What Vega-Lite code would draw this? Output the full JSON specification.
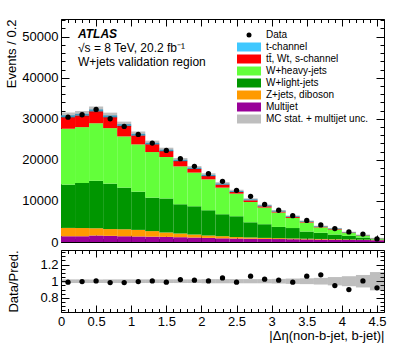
{
  "$schema": "https://vega.github.io/schema/vega-lite/v6.json",
  "padding": {"left": 5, "top": 18, "right": 5, "bottom": 5},
  "spacing": -1,
  "config": {
    "font": "Liberation Sans",
    "view": {"stroke": "black", "strokeWidth": 1},
    "axis": {"domain": false, "grid": false, "labelFont": "Liberation Sans", "labelFontSize": 13, "labelColor": "black", "tickColor": "black", "titleFont": "Liberation Sans", "titleFontSize": 13, "titleFontWeight": "normal", "titleColor": "black", "labelOverlap": false, "labelFlush": false}
  },
  "datasets": {
    "bins": [
      {"lo": 0.0, "hi": 0.2, "mid": 0.1, "multijet": 1400, "zjets": 2030, "wlight": 10540, "wheavy": 13610, "ttbar": 2820, "tchan": 450, "data": 30400, "mcLo": 30170, "mcHi": 31530, "ratio": 0.988, "rLo": 0.978, "rHi": 1.022},
      {"lo": 0.2, "hi": 0.4, "mid": 0.3, "multijet": 1400, "zjets": 2000, "wlight": 10970, "wheavy": 13600, "ttbar": 2840, "tchan": 400, "data": 30980, "mcLo": 30520, "mcHi": 31900, "ratio": 0.996, "rLo": 0.978, "rHi": 1.022},
      {"lo": 0.4, "hi": 0.6, "mid": 0.5, "multijet": 1600, "zjets": 1750, "wlight": 11590, "wheavy": 14000, "ttbar": 2920, "tchan": 400, "data": 32270, "mcLo": 31550, "mcHi": 32970, "ratio": 1.004, "rLo": 0.978, "rHi": 1.022},
      {"lo": 0.6, "hi": 0.8, "mid": 0.7, "multijet": 1500, "zjets": 1650, "wlight": 11060, "wheavy": 13520, "ttbar": 2670, "tchan": 420, "data": 30010, "mcLo": 30140, "mcHi": 31500, "ratio": 0.984, "rLo": 0.978, "rHi": 1.022},
      {"lo": 0.8, "hi": 1.0, "mid": 0.9, "multijet": 1400, "zjets": 1700, "wlight": 10140, "wheavy": 12470, "ttbar": 2590, "tchan": 380, "data": 28140, "mcLo": 28050, "mcHi": 29310, "ratio": 0.984, "rLo": 0.978, "rHi": 1.022},
      {"lo": 1.0, "hi": 1.2, "mid": 1.1, "multijet": 1350, "zjets": 1600, "wlight": 9310, "wheavy": 11510, "ttbar": 2180, "tchan": 380, "data": 26200, "mcLo": 25750, "mcHi": 26910, "ratio": 0.996, "rLo": 0.978, "rHi": 1.022},
      {"lo": 1.2, "hi": 1.4, "mid": 1.3, "multijet": 1300, "zjets": 1350, "wlight": 8150, "wheavy": 11100, "ttbar": 1900, "tchan": 350, "data": 24080, "mcLo": 23620, "mcHi": 24680, "ratio": 1.004, "rLo": 0.978, "rHi": 1.022},
      {"lo": 1.4, "hi": 1.6, "mid": 1.5, "multijet": 1250, "zjets": 1070, "wlight": 8280, "wheavy": 10090, "ttbar": 1450, "tchan": 330, "data": 22310, "mcLo": 21980, "mcHi": 22960, "ratio": 0.988, "rLo": 0.978, "rHi": 1.022},
      {"lo": 1.6, "hi": 1.8, "mid": 1.7, "multijet": 1170, "zjets": 900, "wlight": 7120, "wheavy": 9230, "ttbar": 1290, "tchan": 300, "data": 20290, "mcLo": 19570, "mcHi": 20450, "ratio": 1.02, "rLo": 0.978, "rHi": 1.022},
      {"lo": 1.8, "hi": 2.0, "mid": 1.9, "multijet": 1090, "zjets": 730, "wlight": 6880, "wheavy": 8200, "ttbar": 900, "tchan": 280, "data": 18420, "mcLo": 17680, "mcHi": 18480, "ratio": 1.012, "rLo": 0.978, "rHi": 1.022},
      {"lo": 2.0, "hi": 2.2, "mid": 2.1, "multijet": 1010, "zjets": 570, "wlight": 6150, "wheavy": 7530, "ttbar": 800, "tchan": 270, "data": 16640, "mcLo": 15920, "mcHi": 16740, "ratio": 1.004, "rLo": 0.975, "rHi": 1.025},
      {"lo": 2.2, "hi": 2.4, "mid": 2.3, "multijet": 900, "zjets": 510, "wlight": 5350, "wheavy": 6480, "ttbar": 730, "tchan": 250, "data": 14770, "mcLo": 13860, "mcHi": 14580, "ratio": 1.04, "rLo": 0.975, "rHi": 1.025},
      {"lo": 2.4, "hi": 2.6, "mid": 2.5, "multijet": 850, "zjets": 350, "wlight": 5070, "wheavy": 5510, "ttbar": 400, "tchan": 230, "data": 12590, "mcLo": 12100, "mcHi": 12720, "ratio": 0.988, "rLo": 0.975, "rHi": 1.025},
      {"lo": 2.6, "hi": 2.8, "mid": 2.7, "multijet": 800, "zjets": 300, "wlight": 3700, "wheavy": 4940, "ttbar": 420, "tchan": 210, "data": 11130, "mcLo": 10110, "mcHi": 10630, "ratio": 1.06, "rLo": 0.975, "rHi": 1.025},
      {"lo": 2.8, "hi": 3.0, "mid": 2.9, "multijet": 760, "zjets": 240, "wlight": 3330, "wheavy": 4050, "ttbar": 320, "tchan": 190, "data": 9150, "mcLo": 8670, "mcHi": 9110, "ratio": 1.024, "rLo": 0.975, "rHi": 1.025},
      {"lo": 3.0, "hi": 3.2, "mid": 3.1, "multijet": 720, "zjets": 210, "wlight": 2740, "wheavy": 3500, "ttbar": 250, "tchan": 170, "data": 7730, "mcLo": 7380, "mcHi": 7800, "ratio": 1.012, "rLo": 0.972, "rHi": 1.028},
      {"lo": 3.2, "hi": 3.4, "mid": 3.3, "multijet": 680, "zjets": 180, "wlight": 2540, "wheavy": 2470, "ttbar": 220, "tchan": 150, "data": 6400, "mcLo": 6040, "mcHi": 6440, "ratio": 0.988, "rLo": 0.968, "rHi": 1.032},
      {"lo": 3.4, "hi": 3.6, "mid": 3.5, "multijet": 640, "zjets": 160, "wlight": 1750, "wheavy": 2190, "ttbar": 180, "tchan": 130, "data": 5260, "mcLo": 4870, "mcHi": 5230, "ratio": 1.06, "rLo": 0.965, "rHi": 1.035},
      {"lo": 3.6, "hi": 3.8, "mid": 3.7, "multijet": 600, "zjets": 140, "wlight": 1510, "wheavy": 1310, "ttbar": 150, "tchan": 110, "data": 4160, "mcLo": 3670, "mcHi": 3970, "ratio": 1.077, "rLo": 0.96, "rHi": 1.04},
      {"lo": 3.8, "hi": 4.0, "mid": 3.9, "multijet": 560, "zjets": 120, "wlight": 1140, "wheavy": 1220, "ttbar": 120, "tchan": 95, "data": 3280, "mcLo": 3090, "mcHi": 3420, "ratio": 0.947, "rLo": 0.95, "rHi": 1.05},
      {"lo": 4.0, "hi": 4.2, "mid": 4.1, "multijet": 520, "zjets": 100, "wlight": 880, "wheavy": 680, "ttbar": 100, "tchan": 80, "data": 2450, "mcLo": 2220, "mcHi": 2500, "ratio": 0.9, "rLo": 0.94, "rHi": 1.06},
      {"lo": 4.2, "hi": 4.4, "mid": 4.3, "multijet": 480, "zjets": 90, "wlight": 520, "wheavy": 440, "ttbar": 80, "tchan": 70, "data": 1930, "mcLo": 1550, "mcHi": 1810, "ratio": 1.004, "rLo": 0.925, "rHi": 1.075},
      {"lo": 4.4, "hi": 4.6, "mid": 4.5, "multijet": 440, "zjets": 80, "wlight": 130, "wheavy": 150, "ttbar": 60, "tchan": 55, "data": 750, "mcLo": 815, "mcHi": 1015, "ratio": 0.92, "rLo": 0.89, "rHi": 1.11}
    ]
  },
  "vconcat": [
    {
      "width": 323,
      "height": 223,
      "title": {
        "text": "ATLAS",
        "subtitle": ["√s = 8 TeV, 20.2 fb⁻¹", "W+jets validation region"],
        "anchor": "start", "frame": "group", "orient": "top",
        "offset": -50, "dx": 17,
        "font": "Liberation Sans", "fontSize": 12, "fontStyle": "italic", "fontWeight": "bold", "color": "black",
        "subtitleFont": "Liberation Sans", "subtitleFontSize": 12, "subtitleColor": "black", "subtitlePadding": 2, "subtitleLineHeight": 13.5
      },
      "resolve": {"axis": {"x": "independent", "y": "independent"}},
      "layer": [
        {
          "data": {"name": "bins"},
          "transform": [
            {"fold": ["multijet", "zjets", "wlight", "wheavy", "ttbar", "tchan"], "as": ["process", "count"]},
            {"stack": "count", "groupby": ["lo"], "as": ["y0", "y1"]}
          ],
          "mark": {"type": "rect"},
          "encoding": {
            "x": {"field": "lo", "type": "quantitative", "scale": {"domain": [0, 4.6], "nice": false, "zero": false}, "axis": null},
            "x2": {"field": "hi"},
            "y": {"field": "y1", "type": "quantitative", "scale": {"domain": [0, 54300], "nice": false}, "axis": null},
            "y2": {"field": "y0"},
            "color": {
              "field": "process", "type": "nominal",
              "scale": {
                "domain": ["data", "tchan", "ttbar", "wheavy", "wlight", "zjets", "multijet", "unc"],
                "range": ["#000000", "#3fc8ff", "#ff0000", "#63ff3a", "#009600", "#ff9a00", "#990099", "rgba(40,40,40,0.3)"]
              },
              "legend": {
                "orient": "none", "legendX": 183, "legendY": 11, "title": null, "padding": 0,
                "labelFont": "Liberation Sans", "labelFontSize": 10, "labelColor": "black", "labelOffset": 12, "rowPadding": 2.0,
                "symbolStrokeWidth": 0, "symbolOpacity": 1, "symbolSize": 100,
                "labelExpr": "datum.label === 'data' ? 'Data' : datum.label === 'tchan' ? 't-channel' : datum.label === 'ttbar' ? 'tt̄, Wt, s-channel' : datum.label === 'wheavy' ? 'W+heavy-jets' : datum.label === 'wlight' ? 'W+light-jets' : datum.label === 'zjets' ? 'Z+jets, diboson' : datum.label === 'multijet' ? 'Multijet' : 'MC stat. + multijet unc.'",
                "encode": {"symbols": {"update": {
                  "shape": {"signal": "datum.value === 'data' ? 'circle' : 'M-2.4,-0.9L2.4,-0.9L2.4,0.9L-2.4,0.9Z'"},
                  "size": {"signal": "datum.value === 'data' ? 25 : 100"}
                }}}
              }
            }
          }
        },
        {
          "data": {"name": "bins"},
          "mark": {"type": "rect"},
          "encoding": {
            "x": {"field": "lo", "type": "quantitative", "axis": null},
            "x2": {"field": "hi"},
            "y": {"field": "mcLo", "type": "quantitative", "axis": null},
            "y2": {"field": "mcHi"},
            "color": {"datum": "unc", "type": "nominal"}
          }
        },
        {
          "data": {"name": "bins"},
          "mark": {"type": "circle", "size": 28, "opacity": 1},
          "encoding": {
            "x": {"field": "mid", "type": "quantitative", "axis": null},
            "y": {"field": "data", "type": "quantitative", "axis": null},
            "color": {"datum": "data", "type": "nominal"}
          }
        },
        {
          "data": {"name": "bins"},
          "mark": {"type": "point", "opacity": 0},
          "encoding": {
            "x": {"field": "mid", "type": "quantitative",
              "axis": {"orient": "bottom", "title": null, "labels": false, "labelOverlap": false, "values": [0,0.1,0.2,0.3,0.4,0.5,0.6,0.7,0.8,0.9,1,1.1,1.2,1.3,1.4,1.5,1.6,1.7,1.8,1.9,2,2.1,2.2,2.3,2.4,2.5,2.6,2.7,2.8,2.9,3,3.1,3.2,3.3,3.4,3.5,3.6,3.7,3.8,3.9,4,4.1,4.2,4.3,4.4,4.5,4.6],
                "tickSize": {"condition": {"test": "abs(datum.value*2 - round(datum.value*2)) < 0.001", "value": -7}, "value": -3.5}}},
            "y": {"field": "data", "type": "quantitative",
              "axis": {"orient": "left", "title": "Events / 0.2", "titleAnchor": "end", "titlePadding": 3, "labelOverlap": false,
                "values": [0,2000,4000,6000,8000,10000,12000,14000,16000,18000,20000,22000,24000,26000,28000,30000,32000,34000,36000,38000,40000,42000,44000,46000,48000,50000,52000,54000],
                "tickSize": {"condition": {"test": "datum.value % 10000 === 0", "value": -8}, "value": -4},
                "labelFontSize": {"condition": {"test": "datum.value % 10000 !== 0", "value": 0}, "value": 13},
                "labelPadding": 11,
                "labelExpr": "datum.value % 10000 === 0 ? format(datum.value, 'd') : ''"}}
          }
        },
        {
          "data": {"name": "bins"},
          "mark": {"type": "point", "opacity": 0},
          "encoding": {
            "x": {"field": "mid", "type": "quantitative",
              "axis": {"orient": "top", "title": null, "labels": false, "labelOverlap": false, "values": [0,0.1,0.2,0.3,0.4,0.5,0.6,0.7,0.8,0.9,1,1.1,1.2,1.3,1.4,1.5,1.6,1.7,1.8,1.9,2,2.1,2.2,2.3,2.4,2.5,2.6,2.7,2.8,2.9,3,3.1,3.2,3.3,3.4,3.5,3.6,3.7,3.8,3.9,4,4.1,4.2,4.3,4.4,4.5,4.6],
                "tickSize": {"condition": {"test": "abs(datum.value*2 - round(datum.value*2)) < 0.001", "value": -7}, "value": -3.5}}},
            "y": {"field": "data", "type": "quantitative",
              "axis": {"orient": "right", "title": null, "labels": false, "labelOverlap": false,
                "values": [0,2000,4000,6000,8000,10000,12000,14000,16000,18000,20000,22000,24000,26000,28000,30000,32000,34000,36000,38000,40000,42000,44000,46000,48000,50000,52000,54000],
                "tickSize": {"condition": {"test": "datum.value % 10000 === 0", "value": -8}, "value": -4}}}
          }
        }
      ]
    },
    {
      "width": 323,
      "height": 62,
      "resolve": {"axis": {"x": "independent", "y": "independent"}},
      "layer": [
        {
          "data": {"name": "bins"},
          "mark": {"type": "rect", "color": "rgba(40,40,40,0.3)"},
          "encoding": {
            "x": {"field": "lo", "type": "quantitative", "scale": {"domain": [0, 4.6], "nice": false, "zero": false}, "axis": null},
            "x2": {"field": "hi"},
            "y": {"field": "rLo", "type": "quantitative", "scale": {"domain": [0.63, 1.375], "nice": false, "zero": false}, "axis": null},
            "y2": {"field": "rHi"}
          }
        },
        {
          "data": {"name": "bins"},
          "mark": {"type": "circle", "size": 28, "opacity": 1, "color": "black"},
          "encoding": {
            "x": {"field": "mid", "type": "quantitative", "axis": null},
            "y": {"field": "ratio", "type": "quantitative", "axis": null}
          }
        },
        {
          "data": {"name": "bins"},
          "mark": {"type": "point", "opacity": 0},
          "encoding": {
            "x": {"field": "mid", "type": "quantitative",
              "axis": {"orient": "bottom", "title": "|Δη(non-b-jet, b-jet)|", "titleAnchor": "end", "titlePadding": 1, "labelOverlap": false,
                "values": [0,0.1,0.2,0.3,0.4,0.5,0.6,0.7,0.8,0.9,1,1.1,1.2,1.3,1.4,1.5,1.6,1.7,1.8,1.9,2,2.1,2.2,2.3,2.4,2.5,2.6,2.7,2.8,2.9,3,3.1,3.2,3.3,3.4,3.5,3.6,3.7,3.8,3.9,4,4.1,4.2,4.3,4.4,4.5,4.6],
                "tickSize": {"condition": {"test": "abs(datum.value*2 - round(datum.value*2)) < 0.001", "value": -7}, "value": -3.5},
                "labelFontSize": {"condition": {"test": "abs(datum.value*2 - round(datum.value*2)) >= 0.001", "value": 0}, "value": 13},
                "labelPadding": 10,
                "labelExpr": "abs(datum.value*2 - round(datum.value*2)) < 0.001 ? format(datum.value, '.1~f') : ''"}},
            "y": {"field": "ratio", "type": "quantitative",
              "axis": {"orient": "left", "title": "Data/Pred.", "titlePadding": 19, "labelOverlap": false,
                "values": [0.65,0.7,0.75,0.8,0.85,0.9,0.95,1,1.05,1.1,1.15,1.2,1.25,1.3,1.35],
                "tickSize": {"condition": {"test": "abs(datum.value*5 - round(datum.value*5)) < 0.001", "value": -8}, "value": -4},
                "labelFontSize": {"condition": {"test": "abs(datum.value*5 - round(datum.value*5)) >= 0.001", "value": 0}, "value": 13},
                "labelPadding": 11,
                "labelExpr": "abs(datum.value*5 - round(datum.value*5)) < 0.001 ? format(datum.value, '.1~f') : ''"}}
          }
        },
        {
          "data": {"name": "bins"},
          "mark": {"type": "point", "opacity": 0},
          "encoding": {
            "x": {"field": "mid", "type": "quantitative",
              "axis": {"orient": "top", "title": null, "labels": false, "labelOverlap": false, "values": [0,0.1,0.2,0.3,0.4,0.5,0.6,0.7,0.8,0.9,1,1.1,1.2,1.3,1.4,1.5,1.6,1.7,1.8,1.9,2,2.1,2.2,2.3,2.4,2.5,2.6,2.7,2.8,2.9,3,3.1,3.2,3.3,3.4,3.5,3.6,3.7,3.8,3.9,4,4.1,4.2,4.3,4.4,4.5,4.6],
                "tickSize": {"condition": {"test": "abs(datum.value*2 - round(datum.value*2)) < 0.001", "value": -7}, "value": -3.5}}},
            "y": {"field": "ratio", "type": "quantitative",
              "axis": {"orient": "right", "title": null, "labels": false, "labelOverlap": false,
                "values": [0.65,0.7,0.75,0.8,0.85,0.9,0.95,1,1.05,1.1,1.15,1.2,1.25,1.3,1.35],
                "tickSize": {"condition": {"test": "abs(datum.value*5 - round(datum.value*5)) < 0.001", "value": -8}, "value": -4}}}
          }
        }
      ]
    }
  ]
}
